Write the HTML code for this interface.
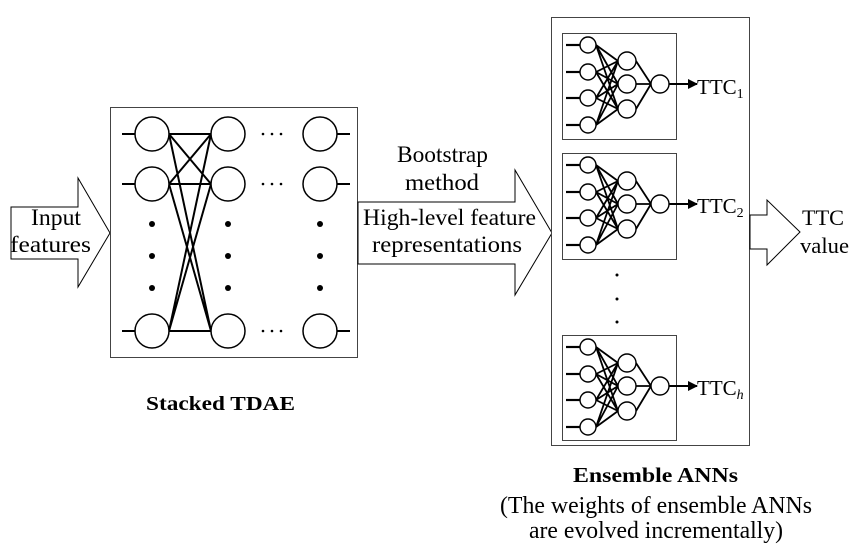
<!DOCTYPE html>
<html><head><meta charset="utf-8"><style>
html,body{margin:0;padding:0;background:#fff}
svg{display:block}
text{font-family:"Liberation Serif",serif;fill:#000}
</style></head><body>
<svg width="852" height="553" viewBox="0 0 852 553" xmlns="http://www.w3.org/2000/svg">
<defs>
<marker id="ah" markerWidth="10" markerHeight="10" refX="9" refY="5" orient="auto" markerUnits="userSpaceOnUse"><path d="M0,0 L10,5 L0,10 z" fill="#000"/></marker>
<g id="ann">
  <g stroke="#000" stroke-width="2.2">
    <line x1="4" y1="12" x2="18" y2="12"/><line x1="4" y1="39" x2="18" y2="39"/>
    <line x1="4" y1="65" x2="18" y2="65"/><line x1="4" y1="92" x2="18" y2="92"/>
  </g>
  <g stroke="#000" stroke-width="1.8">
    <path d="M34,12L56,28M34,12L56,51M34,12L56,76M34,39L56,28M34,39L56,51M34,39L56,76M34,65L56,28M34,65L56,51M34,65L56,76M34,92L56,28M34,92L56,51M34,92L56,76"/>
    <path d="M74,28L89,51M74,51L89,51M74,76L89,51"/>
  </g>
  <g fill="#fff" stroke="#000" stroke-width="1.4">
    <circle cx="26" cy="12" r="8"/><circle cx="26" cy="39" r="8"/><circle cx="26" cy="65" r="8"/><circle cx="26" cy="92" r="8"/>
    <circle cx="65" cy="28" r="9"/><circle cx="65" cy="51" r="9"/><circle cx="65" cy="76" r="9"/>
    <circle cx="98" cy="51" r="9"/>
  </g>
  <line x1="107" y1="51" x2="135" y2="51" stroke="#000" stroke-width="2" marker-end="url(#ah)"/>
</g>
</defs>

<polygon points="11,207 78,207 78,178 110,233 78,287 78,259 11,259" fill="#fff" stroke="#000" stroke-width="1"/>
<text x="31" y="225" font-size="23" textLength="50" lengthAdjust="spacingAndGlyphs">Input</text>
<text x="10" y="252" font-size="23" textLength="81" lengthAdjust="spacingAndGlyphs">features</text>

<rect x="110.5" y="107.5" width="247" height="250" fill="#fff" stroke="#444" stroke-width="1"/>
<g stroke="#000" stroke-width="2">
  <line x1="122" y1="134" x2="136" y2="134"/><line x1="122" y1="184" x2="136" y2="184"/><line x1="122" y1="331" x2="136" y2="331"/>
  <line x1="336" y1="134" x2="350" y2="134"/><line x1="336" y1="184" x2="350" y2="184"/><line x1="336" y1="331" x2="350" y2="331"/>
  <path d="M169,134L211,134M169,134L211,184M169,134L211,331M169,184L211,134M169,184L211,184M169,184L211,331M169,331L211,134M169,331L211,184M169,331L211,331"/>
</g>
<g fill="#fff" stroke="#000" stroke-width="1.5">
  <circle cx="152" cy="134" r="17"/><circle cx="152" cy="184" r="17"/><circle cx="152" cy="331" r="17"/>
  <circle cx="228" cy="134" r="17"/><circle cx="228" cy="184" r="17"/><circle cx="228" cy="331" r="17"/>
  <circle cx="320" cy="134" r="17"/><circle cx="320" cy="184" r="17"/><circle cx="320" cy="331" r="17"/>
</g>
<g fill="#000">
  <circle cx="152" cy="224" r="3"/><circle cx="152" cy="256" r="3"/><circle cx="152" cy="288" r="3"/>
  <circle cx="228" cy="224" r="3"/><circle cx="228" cy="256" r="3"/><circle cx="228" cy="288" r="3"/>
  <circle cx="320" cy="224" r="3"/><circle cx="320" cy="256" r="3"/><circle cx="320" cy="288" r="3"/>
  <circle cx="263" cy="134" r="1.3"/><circle cx="272" cy="134" r="1.3"/><circle cx="281" cy="134" r="1.3"/>
  <circle cx="263" cy="184" r="1.3"/><circle cx="272" cy="184" r="1.3"/><circle cx="281" cy="184" r="1.3"/>
  <circle cx="263" cy="331" r="1.3"/><circle cx="272" cy="331" r="1.3"/><circle cx="281" cy="331" r="1.3"/>
</g>
<text x="146" y="410" font-size="20" font-weight="bold" textLength="149" lengthAdjust="spacingAndGlyphs">Stacked TDAE</text>

<polygon points="358,202 515,202 515,170 552,233 515,295 515,264 358,264" fill="#fff" stroke="#000" stroke-width="1"/>
<text x="397" y="162" font-size="23" textLength="91" lengthAdjust="spacingAndGlyphs">Bootstrap</text>
<text x="405" y="190" font-size="23" textLength="74" lengthAdjust="spacingAndGlyphs">method</text>
<text x="363" y="225" font-size="23" textLength="173" lengthAdjust="spacingAndGlyphs">High-level feature</text>
<text x="372" y="252" font-size="23" textLength="150" lengthAdjust="spacingAndGlyphs">representations</text>

<rect x="551.5" y="17.5" width="198" height="428" fill="#fff" stroke="#444" stroke-width="1"/>
<rect x="562.5" y="33.5" width="114" height="106" fill="#fff" stroke="#444" stroke-width="1"/>
<rect x="562.5" y="153.5" width="114" height="106" fill="#fff" stroke="#444" stroke-width="1"/>
<rect x="562.5" y="335.5" width="114" height="105" fill="#fff" stroke="#444" stroke-width="1"/>
<use href="#ann" x="562" y="33"/>
<use href="#ann" x="562" y="153"/>
<use href="#ann" x="562" y="335"/>
<text x="697" y="94" font-size="21">TTC<tspan font-size="14" dy="4">1</tspan></text>
<text x="697" y="213" font-size="21">TTC<tspan font-size="14" dy="4">2</tspan></text>
<text x="697" y="395" font-size="21">TTC<tspan font-size="14" dy="4" font-style="italic">h</tspan></text>
<g fill="#000"><circle cx="617" cy="275" r="1.5"/><circle cx="617" cy="299" r="1.5"/><circle cx="617" cy="322" r="1.5"/></g>

<polygon points="750,215 767,215 767,200 800,232 767,265 767,249 750,249" fill="#fff" stroke="#000" stroke-width="1"/>
<text x="802" y="225" font-size="22" textLength="42" lengthAdjust="spacingAndGlyphs">TTC</text>
<text x="800" y="253" font-size="22" textLength="49" lengthAdjust="spacingAndGlyphs">value</text>

<text x="573" y="482" font-size="21" font-weight="bold" textLength="165" lengthAdjust="spacingAndGlyphs">Ensemble ANNs</text>
<text x="500" y="513" font-size="24" textLength="312" lengthAdjust="spacingAndGlyphs">(The weights of ensemble ANNs</text>
<text x="529" y="538" font-size="24" textLength="254" lengthAdjust="spacingAndGlyphs">are evolved incrementally)</text>
</svg>
</body></html>
